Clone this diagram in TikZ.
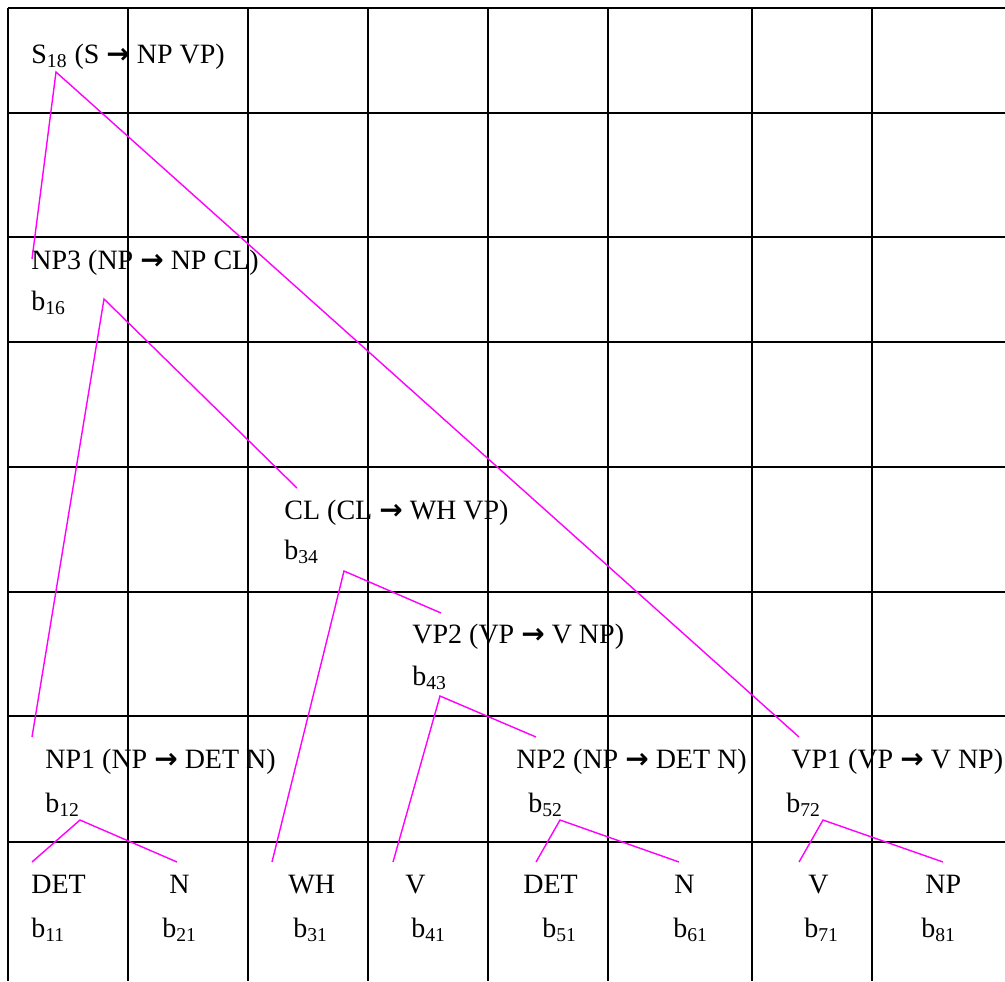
\documentclass[tikz,border=0pt]{standalone}
\usepackage{fontspec}
\setmainfont{Liberation Serif}
\newfontfamily\arrowfont{DejaVu Sans}
\usepackage{xcolor}
\definecolor{treepink}{HTML}{FF00FF}
\definecolor{ruleblack}{HTML}{000000}
\newcommand{\Bcell}[1]{b\textsubscript{#1}}
\newcommand{\Rarr}{{\arrowfont\bfseries →}}

\begin{document}
\begin{tikzpicture}[x=0.5pt,y=-0.5pt,font=\fontsize{14}{17}\selectfont,
  lbl/.style={anchor=base west,inner sep=0pt},
  tabline/.style={line width=0.8pt,ruleblack},
  link/.style={line width=0.7pt,treepink}]
  \useasboundingbox (0,0) rectangle (1005,981);

  % chart table
  \draw[tabline] (8,8) -- (1005,8);
  \foreach \y in {113,237,342,467,592,716,842}
    \draw[tabline] (8,\y) -- (1005,\y);
  \foreach \x in {8,128,248,368,488,608,752,872}
    \draw[tabline] (\x,8) -- (\x,981);

  % constituents
  \node[lbl] (s18) at (31,63) {S\textsubscript{18} (S \Rarr{} NP VP)};
  \node[lbl] (np3) at (31,269) {NP3 (NP \Rarr{} NP CL)};
  \node[lbl] (b16) at (31,310) {\Bcell{16}};
  \node[lbl] (cl) at (284,519) {CL (CL \Rarr{} WH VP)};
  \node[lbl] (b34) at (284,559) {\Bcell{34}};
  \node[lbl] (vp2) at (412,643) {VP2 (VP \Rarr{} V NP)};
  \node[lbl] (b43) at (412,685) {\Bcell{43}};
  \node[lbl] (np1) at (45,768) {NP1 (NP \Rarr{} DET N)};
  \node[lbl] (b12) at (45,812) {\Bcell{12}};
  \node[lbl] (np2) at (516,768) {NP2 (NP \Rarr{} DET N)};
  \node[lbl] (b52) at (528,812) {\Bcell{52}};
  \node[lbl] (vp1) at (791,768) {VP1 (VP \Rarr{} V NP)};
  \node[lbl] (b72) at (786,812) {\Bcell{72}};

  % words
  \node[lbl] (det1) at (31,893) {DET};
  \node[lbl] (b11) at (31,937) {\Bcell{11}};
  \node[lbl] (n1) at (169,893) {N};
  \node[lbl] (b21) at (162,937) {\Bcell{21}};
  \node[lbl] (wh) at (288,893) {WH};
  \node[lbl] (b31) at (293,937) {\Bcell{31}};
  \node[lbl] (v1) at (405,893) {V};
  \node[lbl] (b41) at (411,937) {\Bcell{41}};
  \node[lbl] (det2) at (523,893) {DET};
  \node[lbl] (b51) at (542,937) {\Bcell{51}};
  \node[lbl] (n2) at (674,893) {N};
  \node[lbl] (b61) at (673,937) {\Bcell{61}};
  \node[lbl] (v2) at (808,893) {V};
  \node[lbl] (b71) at (804,937) {\Bcell{71}};
  \node[lbl] (np) at (925,893) {NP};
  \node[lbl] (b81) at (921,937) {\Bcell{81}};

  % fork points and line ends
  \coordinate (s18-fork) at (56,72);
  \coordinate (np3-fork) at (104,299);
  \coordinate (cl-fork) at (344,571);
  \coordinate (vp2-fork) at (440,696);
  \coordinate (np1-fork) at (80,820);
  \coordinate (np2-fork) at (560,820);
  \coordinate (vp1-fork) at (823,820);
  \coordinate (np3-top) at (32,259);
  \coordinate (vp1-top) at (799,737);
  \coordinate (np1-top) at (32,737);
  \coordinate (cl-top) at (297,488);
  \coordinate (wh-top) at (272,862);
  \coordinate (vp2-top) at (441,613);
  \coordinate (v1-top) at (393,862);
  \coordinate (np2-top) at (536,737);
  \coordinate (det1-top) at (32,862);
  \coordinate (n1-top) at (177,862);
  \coordinate (det2-top) at (536,862);
  \coordinate (n2-top) at (679,862);
  \coordinate (v2-top) at (799,862);
  \coordinate (np-top) at (943,862);

  % tree links
  \draw[link] (np3-top) -- (s18-fork) -- (vp1-top);
  \draw[link] (np1-top) -- (np3-fork) -- (cl-top);
  \draw[link] (wh-top) -- (cl-fork) -- (vp2-top);
  \draw[link] (v1-top) -- (vp2-fork) -- (np2-top);
  \draw[link] (det1-top) -- (np1-fork) -- (n1-top);
  \draw[link] (det2-top) -- (np2-fork) -- (n2-top);
  \draw[link] (v2-top) -- (vp1-fork) -- (np-top);
\end{tikzpicture}
\end{document}
